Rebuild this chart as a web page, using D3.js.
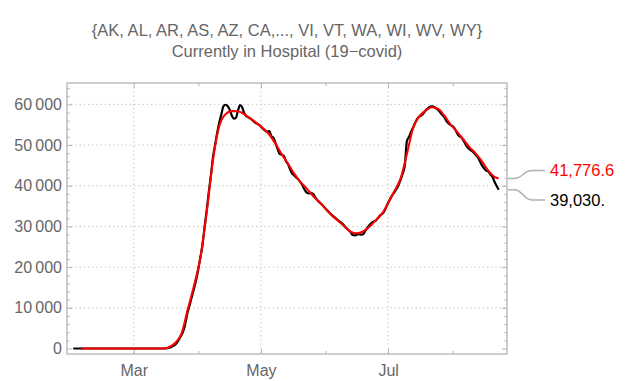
<!DOCTYPE html>
<html><head><meta charset="utf-8">
<script src="https://cdn.jsdelivr.net/npm/d3@7"></script>
<style>body{margin:0;background:#fff}svg{display:block}</style>
</head><body><svg id="c" width="626" height="381"></svg>
<script>
const titleLines = ["{AK, AL, AR, AS, AZ, CA,..., VI, VT, WA, WI, WV, WY}", "Currently in Hospital (19\u2212covid)"];
const yTicks = [0, 10000, 20000, 30000, 40000, 50000, 60000];
const yMinorTicks = [2000,4000,6000,8000,12000,14000,16000,18000,22000,24000,26000,28000,32000,34000,36000,38000,42000,44000,46000,48000,52000,54000,56000,58000,62000,64000];
const xMajorDates = ["03-01", "05-01", "07-01"];
const xTickLabels = ["Mar", "May", "Jul"];
const xMinorDates = ["04-01", "06-01", "08-01"];

// Daily "currently in hospital" (black)
const blackDates = ["02-01","03-15","03-17","03-19","03-21","03-23","03-25","03-27","03-28","03-29","03-31",
 "04-02","04-03","04-04","04-05","04-06","04-07","04-08","04-09","04-10","04-11","04-12","04-13","04-14","04-15",
 "04-16","04-17","04-18","04-19","04-20","04-21","04-22","04-23","04-24","04-25","04-26","04-28","04-30",
 "05-02","05-04","05-05","05-06","05-07","05-08","05-09","05-10","05-11","05-12","05-13","05-14","05-15","05-16",
 "05-17","05-18","05-19","05-20","05-21","05-22","05-23","05-24","05-25","05-26","05-27","05-28","05-30",
 "06-01","06-03","06-05","06-07","06-09","06-11","06-13","06-14","06-15","06-16","06-17","06-18","06-19","06-20",
 "06-22","06-24","06-25","06-27","06-29","07-01","07-03","07-04","07-05","07-06","07-07","07-08","07-09","07-10",
 "07-11","07-12","07-13","07-14","07-15","07-16","07-17","07-18","07-19","07-20","07-21","07-22","07-23","07-24",
 "07-25","07-26","07-27","07-28","07-29","07-30","07-31","08-01","08-02","08-03","08-04","08-05","08-06","08-07",
 "08-08","08-09","08-10","08-12","08-13","08-14","08-15","08-16","08-17","08-18","08-19","08-20","08-21","08-22","08-23"];
const blackValues = [0,0,100,400,1000,2500,4600,9200,11000,13000,17000,
 22500,25500,30000,34000,38500,42500,47000,50000,53000,55500,57500,59500,59900,59600,
 58700,57300,56500,56700,58500,59800,59300,57800,57100,56800,56500,55600,55000,
 54000,53300,53400,52200,51800,50500,49000,47800,47600,47300,46000,45300,44000,43000,
 42500,42000,41500,40800,40000,39000,38300,38100,38200,38000,37200,36500,35500,
 34400,33300,32400,31500,30700,29600,28600,27900,27800,28000,28100,28000,28100,28900,
 30300,31200,31400,32600,33600,35800,37700,38400,39200,40200,41500,43000,45000,51000,
 52000,53300,54300,55500,56500,57000,57300,57800,58500,59000,59400,59500,59400,
 59000,58600,58000,57400,56800,55900,55300,54900,54600,54000,53000,52200,51900,51200,
 50300,49500,49000,48600,47600,47000,46000,45000,44300,43700,43500,42800,42200,41000,40000,39030];

// Smoothed fit (red)
const redDates = ["02-05","03-11","03-15","03-18","03-21","03-24","03-27","03-30","04-02","04-05","04-08","04-11",
 "04-14","04-17","04-20","04-23","04-26","04-29","05-02","05-05","05-08","05-11","05-14","05-17","05-20","05-23",
 "05-26","05-29","06-01","06-04","06-07","06-10","06-13","06-16","06-19","06-22","06-25","06-28","07-01","07-04",
 "07-07","07-10","07-13","07-16","07-19","07-22","07-25","07-28","07-31","08-03","08-06","08-09","08-12","08-15",
 "08-18","08-21","08-23"];
const redValues = [0,0,0,350,1400,3800,9800,15600,22500,33500,46300,54600,
 57600,58350,58300,57600,56500,55400,54100,52600,50300,47700,45400,42900,40900,39300,
 37500,36000,34300,32700,31400,30000,28700,28300,28750,29900,31500,33100,35700,38700,
 41800,47800,54300,57100,58500,59300,58900,57200,55000,53300,51400,49500,47900,46000,
 43700,42200,41776.6];

const endLabels = ["41,776.6", "39,030."];
const endColors = ["#ff0000", "#000000"];

const parse = s => d3.utcParse("%Y-%m-%d")("2020-" + s);
const svg = d3.select("#c");
const L = 67, R = 507, T = 83, B = 354;
const x = d3.scaleUtc().domain([parse("01-29"), parse("08-27")]).range([L, R]);
const y = d3.scaleLinear().domain([-1350, 65250]).range([B, T]);
const frameCol = "#b4b4b4", textCol = "#666666";

// title
svg.selectAll("text.title").data(titleLines).join("text")
  .attr("class", "title").attr("x", 287).attr("y", (d, i) => i === 0 ? 35.5 : 56.5)
  .attr("text-anchor", "middle").attr("font-family", "Liberation Sans, Arial, sans-serif")
  .attr("font-size", 16.5).attr("fill", textCol).text(d => d);

// grid
const grid = svg.append("g").attr("stroke", "#bdbdbd").attr("stroke-width", 1).attr("stroke-dasharray", "1.2,3");
grid.selectAll("line.h").data(yTicks.filter(v => v > 0)).join("line")
  .attr("x1", L).attr("x2", R).attr("y1", d => y(d)).attr("y2", d => y(d));
grid.selectAll("line.v").data(xMajorDates).join("line")
  .attr("y1", T).attr("y2", B).attr("x1", d => x(parse(d))).attr("x2", d => x(parse(d)));

// axes
function styleAxis(g) {
  g.select(".domain").remove();
  g.selectAll(".tick line").attr("stroke", frameCol);
  g.selectAll(".tick text").attr("fill", textCol).attr("font-size", 16)
    .attr("font-family", "Liberation Sans, Arial, sans-serif");
}
const fmtY = v => d3.format(",")(v).replace(/,/g, "\u2009");
svg.append("g").attr("transform", `translate(${L},0)`)
  .call(d3.axisLeft(y).tickValues(yTicks).tickSize(-5).tickPadding(5).tickFormat(fmtY)).call(styleAxis);
svg.append("g").attr("transform", `translate(${L},0)`)
  .call(d3.axisLeft(y).tickValues(yMinorTicks).tickSize(-2.5).tickFormat("")).call(styleAxis);
svg.append("g").attr("transform", `translate(${R},0)`)
  .call(d3.axisRight(y).tickValues(yTicks).tickSize(-5).tickFormat("")).call(styleAxis);
svg.append("g").attr("transform", `translate(${R},0)`)
  .call(d3.axisRight(y).tickValues(yMinorTicks).tickSize(-2.5).tickFormat("")).call(styleAxis);
svg.append("g").attr("transform", `translate(0,${B})`)
  .call(d3.axisBottom(x).tickValues(xMajorDates.map(parse)).tickSize(-5).tickPadding(11)
    .tickFormat((d, i) => xTickLabels[i])).call(styleAxis);
svg.append("g").attr("transform", `translate(0,${B})`)
  .call(d3.axisBottom(x).tickValues(xMinorDates.map(parse)).tickSize(-3).tickFormat("")).call(styleAxis);
svg.append("g").attr("transform", `translate(0,${T})`)
  .call(d3.axisTop(x).tickValues(xMajorDates.map(parse)).tickSize(-5).tickFormat("")).call(styleAxis);
svg.append("g").attr("transform", `translate(0,${T})`)
  .call(d3.axisTop(x).tickValues(xMinorDates.map(parse)).tickSize(-3).tickFormat("")).call(styleAxis);

// frame
svg.append("rect").attr("x", L).attr("y", T).attr("width", R - L).attr("height", B - T)
  .attr("fill", "none").attr("stroke", frameCol).attr("stroke-width", 1.3);

// series
const black = blackDates.map((d, i) => ({ date: parse(d), v: blackValues[i] }));
const red = redDates.map((d, i) => ({ date: parse(d), v: redValues[i] }));
const line = d3.line().x(d => x(d.date)).y(d => y(d.v)).curve(d3.curveMonotoneX);
svg.append("path").datum(black).attr("d", line).attr("fill", "none").attr("stroke", "#000")
  .attr("stroke-width", 2.2).attr("stroke-linejoin", "round");
svg.append("path").datum(red).attr("d", line).attr("fill", "none").attr("stroke", "#ff0000")
  .attr("stroke-width", 2.1).attr("stroke-linejoin", "round");

// end labels with callouts
const ends = [red[red.length - 1], black[black.length - 1]];
const labelY = [170.5, 200];
ends.forEach((e, i) => {
  const y0 = y(e.v), y1 = labelY[i];
  svg.append("path")
    .attr("d", `M${R + 1},${y0} L${R + 7},${y0} C${R + 16},${y0} ${R + 16},${y1} ${R + 25},${y1} L${R + 38},${y1}`)
    .attr("fill", "none").attr("stroke", "#b0b0b0").attr("stroke-width", 1.5);
  svg.append("text").attr("x", 550).attr("y", y1 + 5.5).attr("font-size", 16.5)
    .attr("font-family", "Liberation Sans, Arial, sans-serif").attr("fill", endColors[i]).text(endLabels[i]);
});
</script></body></html>
